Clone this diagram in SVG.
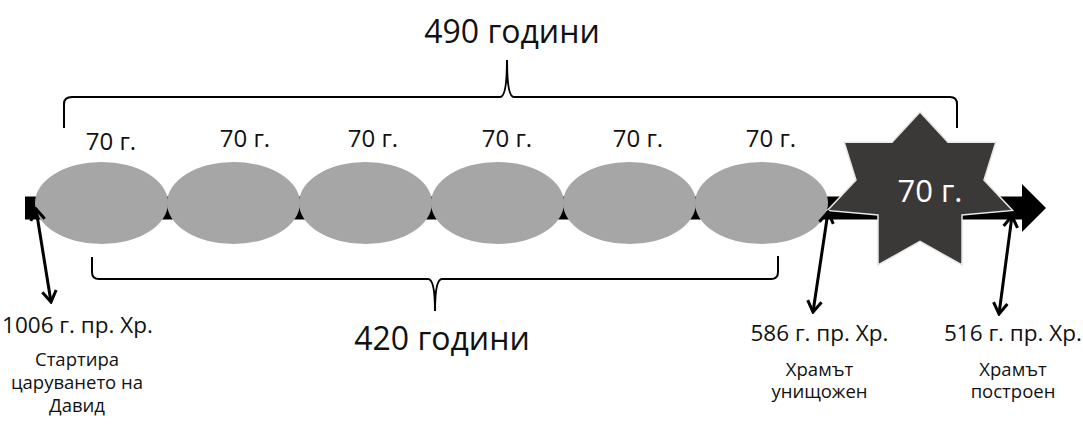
<svg xmlns="http://www.w3.org/2000/svg" width="1083" height="433" viewBox="0 0 1083 433">
<defs>
<style>
text{font-family:"Open Sans","Noto Sans","DejaVu Sans",sans-serif;fill:#111;text-anchor:middle}
.per{fill:#a6a6a6}
.lbl{font-size:24px}
.big{font-size:32px}
.date{font-size:22.5px}
.desc{font-size:18.5px}
.brace{fill:none;stroke:#000;stroke-width:2}
.dbl{fill:none;stroke:#000;stroke-width:3;marker-start:url(#chev);marker-end:url(#chev)}
</style>
<marker id="chev" viewBox="-14 -9 16 18" markerWidth="16" markerHeight="18" refX="0" refY="0" markerUnits="userSpaceOnUse" orient="auto-start-reverse">
<path d="M-11,-7 L0,0 L-11,7" fill="none" stroke="#000" stroke-width="3"/>
</marker>
</defs>
<rect width="1083" height="433" fill="#fff"/>

<g id="timeline">
<path d="M25,196.5 L1022,196.5 L1022,184 L1046,208 L1022,232 L1022,219.5 L25,219.5 Z" fill="#000"/>
</g>

<g id="period1"><ellipse class="per" cx="101.5" cy="203" rx="66.5" ry="41"/><text class="lbl" x="111" y="150">70 г.</text></g>
<g id="period2"><ellipse class="per" cx="233.5" cy="203" rx="66.5" ry="41"/><text class="lbl" x="245" y="147">70 г.</text></g>
<g id="period3"><ellipse class="per" cx="365.5" cy="203" rx="66.5" ry="41"/><text class="lbl" x="373" y="147">70 г.</text></g>
<g id="period4"><ellipse class="per" cx="497.5" cy="203" rx="66.5" ry="41"/><text class="lbl" x="507" y="147">70 г.</text></g>
<g id="period5"><ellipse class="per" cx="629.5" cy="203" rx="66.5" ry="41"/><text class="lbl" x="638" y="147">70 г.</text></g>
<g id="period6"><ellipse class="per" cx="761.5" cy="203" rx="66.5" ry="41"/><text class="lbl" x="771" y="147">70 г.</text></g>

<g id="exile">
<polygon points="920,112 948,142.3 995.8,142.3 984,180 1012.6,210.4 962,215 962,265 920,241.4 878,265 878,215 827.4,210.4 856,180 844.2,142.3 892,142.3" fill="#3b3838" stroke="#e6e6e6" stroke-width="1.5" stroke-linejoin="miter"/>
<text x="930" y="202" style="font-size:31px;fill:#fff">70 г.</text>
</g>

<g id="braces">
<path class="brace" d="M64,128 L64,104 Q64,97 72,97 L500,97 Q507,97 507,60 Q507,97 514,97 L950,97 Q957,97 957,104 L957,128"/>
<path class="brace" d="M92,257 L92,272 Q92,279 99,279 L428,279 Q435,279 435,311 Q435,279 442,279 L771,279 Q778,279 778,272 L778,256"/>
</g>
<g id="total490"><text class="big" x="512" y="43">490 години</text></g>
<g id="total420"><text class="big" x="442" y="350">420 години</text></g>

<g id="connectors">
<line class="dbl" x1="36" y1="209" x2="51" y2="302"/>
<line class="dbl" x1="828" y1="212" x2="813" y2="312"/>
<line class="dbl" x1="1012" y1="216" x2="999" y2="314"/>
</g>

<g id="date1006">
<text class="date" x="77.5" y="333">1006 г. пр. Хр.</text>
<text class="desc" x="77" y="366">Стартира</text>
<text class="desc" x="77" y="389">царуването на</text>
<text class="desc" x="77" y="412">Давид</text>
</g>
<g id="date586">
<text class="date" x="819.5" y="341">586 г. пр. Хр.</text>
<text class="desc" x="819.5" y="376">Храмът</text>
<text class="desc" x="819.5" y="398">унищожен</text>
</g>
<g id="date516">
<text class="date" x="1013" y="341">516 г. пр. Хр.</text>
<text class="desc" x="1013" y="376">Храмът</text>
<text class="desc" x="1013" y="398">построен</text>
</g>
</svg>
